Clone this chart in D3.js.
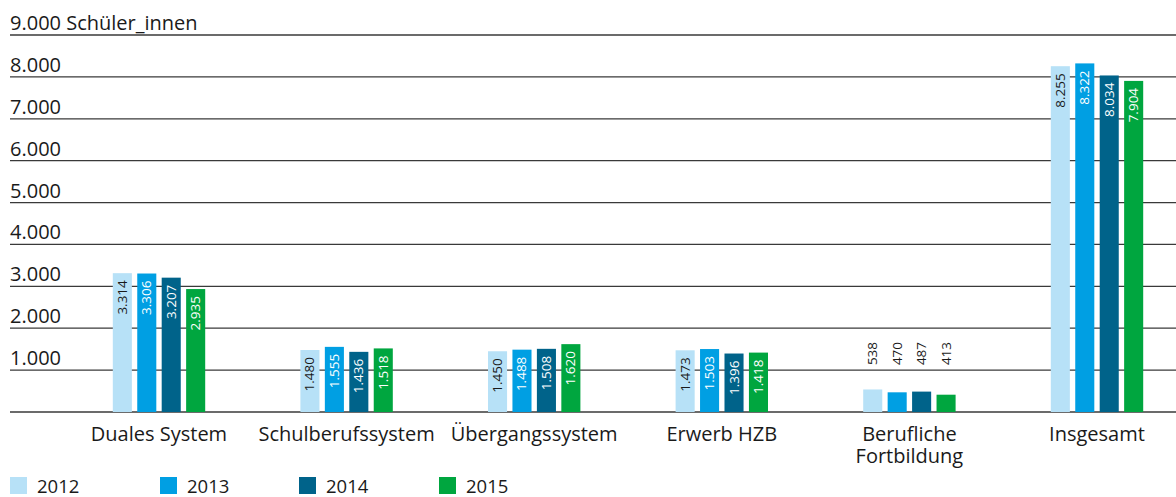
<!DOCTYPE html>
<html lang="de">
<head>
<meta charset="UTF-8">
<title>Schüler_innen</title>
<style>
  body { margin: 0; background: #fff; }
  text { font-family: "Open Sans", "DejaVu Sans", sans-serif; fill: #1a1a1a; }
  .tick-label { font-size: 20px; }
  .cat-label { font-size: 20px; }
  .bar-label { font-size: 13.5px; }
  .legend-label { font-size: 18.5px; }
</style>
</head>
<body>
<div id="chart"></div>
<script src="https://cdn.jsdelivr.net/npm/d3@7"></script>
<script>
// Daten
let categories = ['Duales System', 'Schulberufssystem', 'Übergangssystem', 'Erwerb HZB', 'Berufliche Fortbildung', 'Insgesamt']
let years = ['2012', '2013', '2014', '2015']
let values2012 = [3314, 1480, 1450, 1473, 538, 8255]
let values2013 = [3306, 1555, 1488, 1503, 470, 8322]
let values2014 = [3207, 1436, 1508, 1396, 487, 8034]
let values2015 = [2935, 1518, 1620, 1418, 413, 7904]
let yTicks = [0, 1000, 2000, 3000, 4000, 5000, 6000, 7000, 8000, 9000]
let unit = 'Schüler_innen'
let colors = ['#b7e1f7', '#009fe3', '#00638a', '#00a63f']
let labelColors = ['#1a1a1a', '#ffffff', '#ffffff', '#ffffff']

let series = [values2012, values2013, values2014, values2015]

let width = 1176
let height = 497

let svg = d3.select('#chart').append('svg').attr('width', width).attr('height', height)

// Skalen
let y = d3.scaleLinear().domain([0, 9000]).range([412, 35])
let x = d3.scaleBand().domain(categories).range([65.2, 1190.8]).padding(0)
let xInner = d3.scaleBand().domain(years).range([-46.2, 46.2]).paddingInner(0.22).paddingOuter(0)

let fmt = d3.formatLocale({ decimal: ',', thousands: '.', grouping: [3], currency: ['', '€'] }).format(',d')

// Gitterlinien (hinter den Balken)
let grid = svg.append('g').attr('class', 'grid')
grid.selectAll('line').data(yTicks).enter().append('line')
  .attr('x1', 10).attr('x2', width)
  .attr('y1', d => y(d)).attr('y2', d => y(d))
  .attr('stroke', '#3a3a3a').attr('stroke-width', 1.3)

grid.selectAll('text').data(yTicks.filter(d => d > 0)).enter().append('text')
  .attr('class', 'tick-label')
  .attr('x', 10).attr('y', d => y(d) - 5)
  .text(d => d === 9000 ? fmt(d) + ' ' + unit : fmt(d))

// Balken
let bars = svg.append('g').attr('class', 'bars')
series.forEach((vals, si) => {
  let g = bars.append('g')
  vals.forEach((v, ci) => {
    let cx = x(categories[ci]) + x.bandwidth() / 2
    let bx = cx + xInner(years[si])
    g.append('rect')
      .attr('x', bx).attr('y', y(v))
      .attr('width', xInner.bandwidth()).attr('height', y(0) - y(v))
      .attr('fill', colors[si])
    let tx = bx + xInner.bandwidth() / 2 + 4.5
    if (v >= 1000) {
      g.append('text').attr('class', 'bar-label')
        .attr('transform', 'translate(' + tx + ',' + (y(v) + 7) + ') rotate(-90)')
        .attr('text-anchor', 'end')
        .style('fill', labelColors[si])
        .text(fmt(v))
    } else {
      // zu kurz: Wert über dem Balken
      g.append('text').attr('class', 'bar-label')
        .attr('transform', 'translate(' + tx + ',' + (y(1000) - 5) + ') rotate(-90)')
        .attr('text-anchor', 'start')
        .text(fmt(v))
    }
  })
})

// Kategorien
let cats = svg.append('g').attr('class', 'cats')
categories.forEach(c => {
  let cx = x(c) + x.bandwidth() / 2
  let t = cats.append('text').attr('class', 'cat-label').attr('text-anchor', 'middle')
  let lines = c === 'Berufliche Fortbildung' ? ['Berufliche', 'Fortbildung'] : [c]
  lines.forEach((l, i) => {
    t.append('tspan').attr('x', cx).attr('y', 441 + i * 22).text(l)
  })
})

// Legende
let legendX = [10, 160, 299, 439]
let legend = svg.append('g').attr('class', 'legend')
years.forEach((yr, i) => {
  let lx = legendX[i]
  legend.append('rect').attr('x', lx).attr('y', 477).attr('width', 17).attr('height', 17).attr('fill', colors[i])
  legend.append('text').attr('class', 'legend-label').attr('x', lx + 27).attr('y', 493).text(yr)
})
</script>
</body>
</html>
